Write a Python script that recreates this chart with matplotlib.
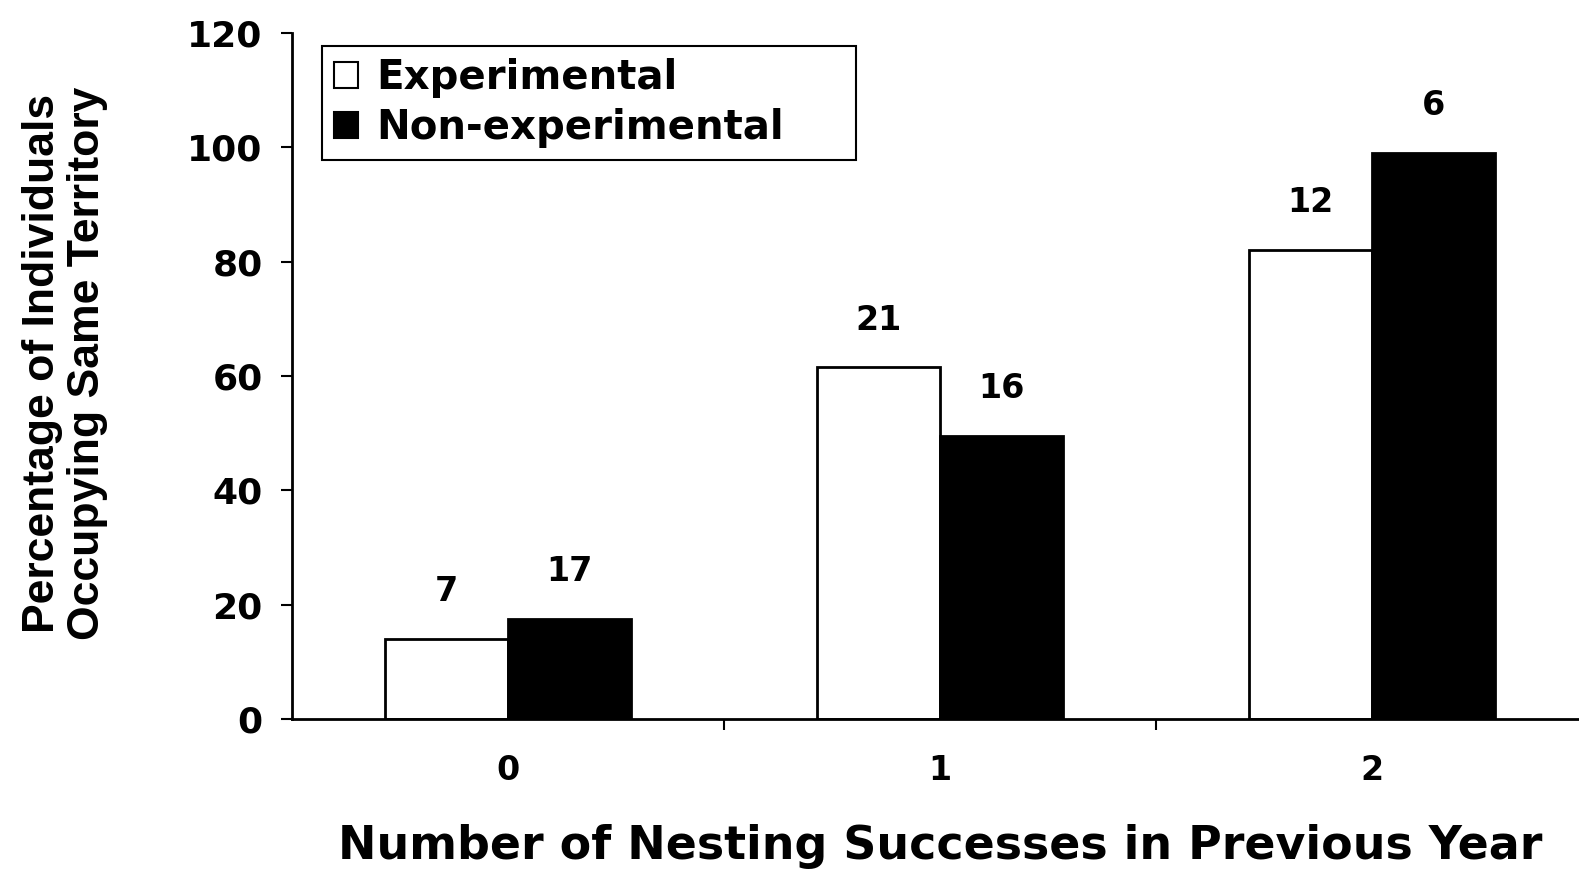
import matplotlib.pyplot as plt
from matplotlib.patches import Patch
import numpy as np

plt.rcParams['font.family'] = ['DejaVu Sans']
plt.rcParams['font.weight'] = 'bold'

# data
categories = ['0', '1', '2']
experimental = [14, 61.5, 82]
non_experimental = [17.5, 49.5, 99]
n_experimental = [7, 21, 12]
n_non_experimental = [17, 16, 6]

fig = plt.figure(figsize=(15.79, 8.72), dpi=100)
ax = fig.add_axes([0.1849, 0.1755, 0.8208, 0.7867])

x = np.arange(len(categories))
w = 0.285
b1 = ax.bar(x - w / 2, experimental, w, color='white', edgecolor='black', linewidth=2)
b2 = ax.bar(x + w / 2, non_experimental, w, color='black', edgecolor='black', linewidth=2)

# sample sizes above bars
for bars, counts in [(b1, n_experimental), (b2, n_non_experimental)]:
    for bar, n in zip(bars, counts):
        ax.annotate(str(n), (bar.get_x() + bar.get_width() / 2, bar.get_height()),
                    xytext=(0, 34), textcoords='offset points',
                    ha='center', va='center', fontsize=24, fontweight='bold')

ax.set_xlim(-0.5, 2.5)
ax.set_ylim(0, 120)
ax.set_yticks(range(0, 121, 20))
ax.set_xticks(x)
ax.set_xticklabels(categories)
ax.set_xticks([0.5, 1.5, 2.5], minor=True)
ax.tick_params(axis='x', which='major', length=0, pad=25, labelsize=24)
ax.tick_params(axis='x', which='minor', length=8, width=1.5, direction='out')
ax.tick_params(axis='y', length=8, width=1.5, direction='out', pad=13, labelsize=26)
for lab in ax.get_xticklabels() + ax.get_yticklabels():
    lab.set_fontweight('bold')

ax.spines['top'].set_visible(False)
ax.spines['right'].set_visible(False)
ax.spines['left'].set_linewidth(2)
ax.spines['bottom'].set_linewidth(2)

ax.set_xlabel('Number of Nesting Successes in Previous Year', fontsize=33,
              fontweight='bold', labelpad=27)
fig.text(65 / 1579, 0.583, 'Percentage of Individuals\nOccupying Same Territory',
         rotation=90, ha='center', va='center', fontsize=32, fontweight='bold',
         family=['Liberation Sans', 'DejaVu Sans'], linespacing=1.1)

handles = [Patch(facecolor='white', edgecolor='black', linewidth=1.5),
           Patch(facecolor='black', edgecolor='black', linewidth=1.5)]
leg = ax.legend(handles, ['Experimental', 'Non-experimental'],
                bbox_to_anchor=(0.0231, 0.8236, 0.412, 0.1574), loc='upper left',
                mode='expand', borderaxespad=0, fancybox=False, framealpha=1,
                edgecolor='black', handlelength=0.6, handleheight=0.6,
                handletextpad=0.45, labelspacing=0.25, borderpad=0.3,
                prop={'weight': 'bold', 'size': 29})
leg.get_frame().set_linewidth(1.5)

fig.savefig('out.png', dpi=100)
